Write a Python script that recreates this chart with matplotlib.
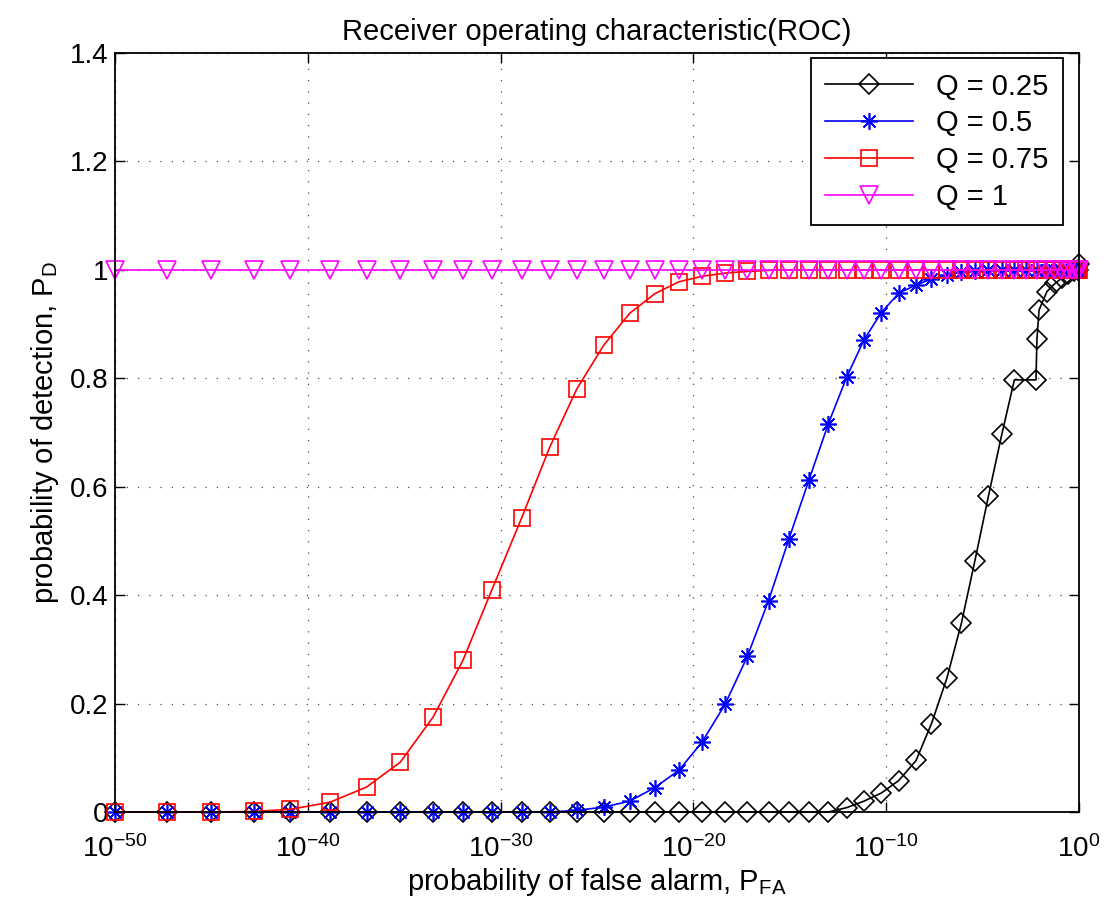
import numpy as np
import matplotlib
matplotlib.use("Agg")
import matplotlib.pyplot as plt
from matplotlib.ticker import FixedLocator, FuncFormatter, NullLocator, LogFormatterSciNotation

# false alarm probabilities (as powers of ten) at which PD was evaluated
pfa_exp = [-50.0, -47.3, -45.0, -42.8, -40.9, -38.85, -36.95, -35.2, -33.5, -31.95,
           -30.45, -28.9, -27.45, -26.05, -24.65, -23.3, -22.0, -20.75, -19.55, -18.35,
           -17.2, -16.1, -15.05, -14.0, -13.0, -12.05, -11.15, -10.25, -9.35, -8.45,
           -7.65, -6.85, -6.1, -5.4, -4.7, -4.0, -3.35, -2.75, -2.2, -1.7,
           -1.3, -0.95, -0.6, -0.35, -0.15, -0.05, 0.0]

# Q = 0.25 has its own tail near PFA = 1
pfa_exp_q025 = [-50.0, -47.3, -45.0, -42.8, -40.9, -38.85, -36.95, -35.2, -33.5, -31.95,
                -30.45, -28.9, -27.45, -26.05, -24.65, -23.3, -22.0, -20.75, -19.55, -18.35,
                -17.2, -16.1, -15.05, -14.0, -13.0, -12.05, -11.15, -10.25, -9.35, -8.45,
                -7.65, -6.85, -6.1, -5.4, -4.7, -4.0, -3.35, -2.23, -2.18, -2.07,
                -1.66, -1.24, -0.88, -0.57, -0.26, -0.05, 0.0]

pd_q025 = [0, 0, 0, 0, 0, 0, 0, 0, 0, 0,
           0, 0, 0, 0, 0, 0, 0, 0, 0, 0,
           0, 0, 0, 0, 0, 0.008, 0.02, 0.035, 0.058, 0.095,
           0.163, 0.247, 0.348, 0.463, 0.582, 0.697, 0.797, 0.797, 0.872, 0.926,
           0.96, 0.975, 0.985, 0.993, 0.998, 1.0, 1.01]

pd_q050 = [0, 0, 0, 0, 0, 0, 0, 0, 0, 0,
           0, 0, 0, 0.003, 0.009, 0.02, 0.045, 0.077, 0.129, 0.199,
           0.287, 0.39, 0.503, 0.613, 0.716, 0.802, 0.871, 0.921, 0.957, 0.972,
           0.983, 0.991, 0.996, 0.998, 1.0, 1.0, 1.0, 1.0, 1.0, 1.0,
           1.0, 1.0, 1.0, 1.0, 1.0, 1.0, 1.0]

pd_q075 = [0, 0, 0, 0.001, 0.005, 0.018, 0.046, 0.092, 0.175, 0.28,
           0.41, 0.543, 0.673, 0.78, 0.861, 0.92, 0.956, 0.978, 0.988, 0.994,
           0.997, 0.999, 1.0, 1.0, 1.0, 1.0, 1.0, 1.0, 1.0, 1.0,
           1.0, 1.0, 1.0, 1.0, 1.0, 1.0, 1.0, 1.0, 1.0, 1.0,
           1.0, 1.0, 1.0, 1.0, 1.0, 1.0, 1.0]

pd_q100 = [1.0] * 47

plt.rcParams['font.family'] = ['Liberation Sans', 'DejaVu Sans']
plt.rcParams['mathtext.fontset'] = 'custom'
plt.rcParams['mathtext.rm'] = 'Liberation Sans'
plt.rcParams['mathtext.it'] = 'Liberation Sans:italic'
plt.rcParams['mathtext.bf'] = 'Liberation Sans:bold'

fig = plt.figure(figsize=(11.08, 9.10), dpi=100)
ax = fig.add_axes([0.1038, 0.1077, 0.8700, 0.8341])

pfa = 10.0 ** np.array(pfa_exp)
pfa_q025 = 10.0 ** np.array(pfa_exp_q025)

common = dict(lw=1.2, mfc='none', mew=1.2, clip_on=False)
ax.plot(pfa_q025, pd_q025, color='k', marker='D', ms=10, label='Q = 0.25', **common)
ax.plot(pfa, pd_q050, color='b', marker=(8, 2, 0), ms=12, label='Q = 0.5', **common)
ax.plot(pfa, pd_q075, color='r', marker='s', ms=11, label='Q = 0.75', **common)
ax.plot(pfa, pd_q100, color='magenta', marker='v', ms=13, label='Q = 1', **common)

ax.set_xscale('log')
ax.set_xlim(1e-50, 1e0)
ax.set_ylim(0, 1.4)
ax.xaxis.set_major_locator(FixedLocator([10.0 ** e for e in range(-50, 1, 10)]))
ax.xaxis.set_major_formatter(LogFormatterSciNotation())
ax.xaxis.set_minor_locator(NullLocator())
ax.yaxis.set_major_locator(FixedLocator(np.arange(0, 1.41, 0.2)))
ax.yaxis.set_major_formatter(FuncFormatter(lambda v, p: '%g' % round(v, 1)))

ax.tick_params(direction='in', length=7, width=1.0, top=True, right=True, labelsize=20)
ax.tick_params(axis='x', pad=17)
ax.tick_params(axis='y', pad=5)
ax.grid(True, linestyle=(0, (1, 8)), color='0.3', lw=0.9)
ax.set_axisbelow(True)
for s in ax.spines.values():
    s.set_linewidth(1.3)

ax.set_title('Receiver operating characteristic(ROC)', fontsize=21, pad=9)
ax.set_xlabel(r'probability of false alarm, P$_{\mathrm{FA}}$', fontsize=21, labelpad=2)
ax.set_ylabel(r'probability of detection, P$_{\mathrm{D}}$', fontsize=21, labelpad=6)

leg = ax.legend(loc='upper right', bbox_to_anchor=(0.9834, 0.9934), borderaxespad=0,
                fontsize=21, handlelength=3.0, labelspacing=0.3, borderpad=0.5,
                fancybox=False, framealpha=1, edgecolor='k')
leg.get_frame().set_linewidth(1.3)

fig.savefig('out.png', dpi=100)
